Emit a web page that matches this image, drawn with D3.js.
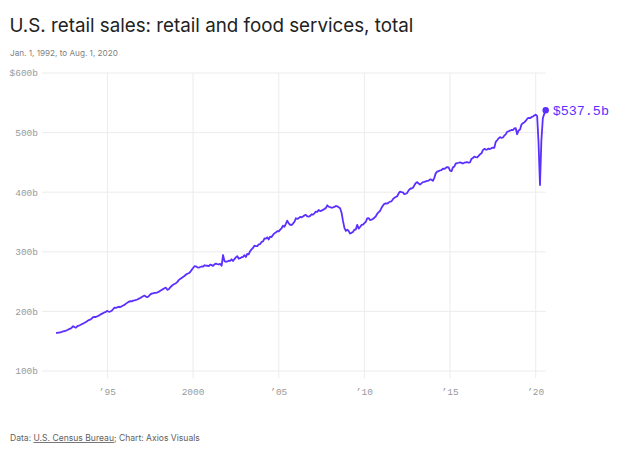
<!DOCTYPE html>
<html>
<head>
<meta charset="utf-8">
<script src="https://cdn.jsdelivr.net/npm/d3@7"></script>
<style>
  html, body { margin: 0; padding: 0; background: #fff; }
  svg { display: block; }
</style>
</head>
<body>
<div id="chart"></div>
<script>
// monthly retail and food services sales, $ billions, Jan 1992 .. Aug 2020
const startYear = 1992
const retailSales = [
  164.1, 164.2, 164.4, 165.0, 165.6, 166.3, 167.0, 167.6, 168.8, 170.2, 171.0, 172.6, // 1992
  175.2, 173.4, 172.6, 175.4, 176.2, 177.2, 178.5, 179.6, 180.9, 182.4, 183.9, 185.4, // 1993
  186.2, 187.9, 190.3, 191.0, 190.6, 191.9, 192.8, 194.6, 195.9, 197.0, 198.5, 199.3, // 1994
  200.9, 199.2, 199.8, 201.0, 203.6, 206.4, 205.9, 206.9, 207.8, 207.3, 208.5, 209.9, // 1995
  210.9, 213.1, 214.4, 216.0, 217.2, 216.8, 218.1, 218.5, 219.2, 220.0, 221.4, 222.6, // 1996
  224.0, 225.5, 226.6, 224.8, 223.8, 225.6, 228.3, 229.8, 230.4, 231.0, 231.2, 231.9, // 1997
  232.8, 234.5, 236.0, 237.4, 238.8, 239.9, 236.2, 237.2, 240.3, 242.6, 244.8, 246.0, // 1998
  247.3, 249.6, 252.4, 254.5, 256.2, 257.8, 259.4, 261.7, 263.2, 264.0, 266.1, 269.5, // 1999
  272.8, 275.8, 275.6, 273.9, 273.3, 274.5, 275.3, 275.2, 277.4, 276.9, 276.6, 276.1, // 2000
  278.5, 277.6, 276.4, 279.0, 280.1, 279.4, 279.0, 279.7, 276.5, 294.6, 284.4, 283.2, // 2001
  283.8, 285.1, 284.9, 287.4, 284.6, 287.8, 290.6, 292.8, 288.4, 289.3, 290.9, 291.2, // 2002
  294.4, 291.3, 296.5, 295.6, 301.0, 304.0, 306.5, 310.2, 309.4, 309.6, 312.4, 313.0, // 2003
  316.6, 317.4, 322.3, 322.0, 324.3, 320.7, 325.4, 324.8, 328.4, 331.1, 332.4, 334.8, // 2004
  334.3, 337.1, 339.4, 343.6, 342.0, 347.0, 352.4, 347.8, 345.4, 345.0, 347.2, 350.3, // 2005
  356.3, 355.2, 356.5, 358.4, 357.8, 359.1, 361.0, 361.8, 359.4, 359.0, 360.2, 363.0, // 2006
  362.4, 364.6, 367.4, 367.0, 370.2, 368.4, 369.1, 370.3, 372.0, 373.2, 378.0, 375.6, // 2007
  374.8, 373.9, 374.5, 375.3, 376.9, 376.4, 374.6, 373.0, 365.5, 351.8, 340.2, 335.0, // 2008
  337.2, 334.8, 330.6, 331.8, 333.4, 337.0, 337.4, 345.3, 338.8, 341.6, 345.0, 345.6, // 2009
  348.2, 350.4, 356.0, 356.6, 353.3, 353.8, 355.0, 357.2, 359.6, 363.8, 366.6, 368.5, // 2010
  373.8, 377.6, 380.4, 381.3, 381.0, 382.5, 384.2, 384.6, 388.3, 390.6, 392.0, 393.2, // 2011
  398.0, 401.0, 400.2, 399.6, 396.8, 397.4, 398.8, 403.0, 405.8, 406.2, 407.4, 411.5, // 2012
  415.4, 416.9, 414.4, 412.8, 414.8, 416.9, 417.5, 418.2, 418.8, 419.4, 421.5, 421.0, // 2013
  419.0, 424.6, 431.6, 434.6, 435.3, 436.5, 436.9, 439.4, 439.0, 440.8, 442.2, 441.5, // 2014
  436.0, 435.2, 441.3, 443.0, 447.8, 448.7, 449.4, 450.2, 449.2, 448.2, 449.5, 450.1, // 2015
  450.6, 449.5, 450.0, 455.8, 457.4, 459.6, 458.8, 458.3, 461.0, 463.6, 465.2, 470.5, // 2016
  472.8, 471.4, 471.6, 473.2, 472.4, 473.8, 474.7, 474.4, 484.5, 487.2, 490.4, 492.5, // 2017
  491.0, 491.8, 494.8, 497.0, 501.3, 502.3, 503.4, 504.4, 504.0, 506.9, 507.3, 497.2, // 2018
  503.4, 505.0, 513.0, 515.8, 517.0, 519.6, 523.0, 524.8, 524.2, 525.9, 527.0, 528.6, // 2019
  530.0, 527.5, 484.0, 412.0, 487.0, 524.0, 531.4, 537.5                                // 2020
]

const yTicks = [100, 200, 300, 400, 500, 600]
const yTickLabels = ['100b', '200b', '300b', '400b', '500b', '$600b']
const xTickYears = [1995, 2000, 2005, 2010, 2015, 2020]
const xTickLabels = ['\u201995', '2000', '\u201905', '\u201910', '\u201915', '\u201920']

const titleText = 'U.S. retail sales: retail and food services, total'
const subtitleText = 'Jan. 1, 1992, to Aug. 1, 2020'
const endLabel = '$537.5b'

const width = 624
const height = 465
const lineColor = '#5b2fff'
const monoFont = '"Liberation Mono", "DejaVu Sans Mono", monospace'
const sansFont = 'Inter, "Noto Sans", sans-serif'

const data = retailSales.map((v, i) => ({
  date: new Date(startYear + Math.floor(i / 12), i % 12, 1),
  value: v
}))
const last = data[data.length - 1]

const svg = d3.select('#chart')
  .append('svg')
  .attr('width', width)
  .attr('height', height)

const x = d3.scaleTime()
  .domain([data[0].date, last.date])
  .range([56, 545.7])

const y = d3.scaleLinear()
  .domain([100, 600])
  .range([371, 73])

// gridlines
svg.append('g')
  .selectAll('line')
  .data(yTicks)
  .join('line')
  .attr('x1', 42)
  .attr('x2', x(last.date))
  .attr('y1', d => y(d))
  .attr('y2', d => y(d))
  .attr('stroke', '#ececec')
  .attr('stroke-width', 1)

svg.append('g')
  .selectAll('line')
  .data(xTickYears)
  .join('line')
  .attr('x1', d => x(new Date(d, 0, 1)))
  .attr('x2', d => x(new Date(d, 0, 1)))
  .attr('y1', y(600))
  .attr('y2', 378)
  .attr('stroke', '#ececec')
  .attr('stroke-width', 1)

// axis labels
svg.append('g')
  .selectAll('text')
  .data(yTicks)
  .join('text')
  .attr('x', 38)
  .attr('y', d => y(d))
  .attr('dy', '0.35em')
  .attr('text-anchor', 'end')
  .style('font-family', monoFont)
  .style('font-size', '9.5px')
  .style('fill', '#9a9a9a')
  .text((d, i) => yTickLabels[i])

svg.append('g')
  .selectAll('text')
  .data(xTickYears)
  .join('text')
  .attr('x', d => x(new Date(d, 0, 1)))
  .attr('y', 394.5)
  .attr('text-anchor', 'middle')
  .style('font-family', monoFont)
  .style('font-size', '9.5px')
  .style('fill', '#9a9a9a')
  .text((d, i) => xTickLabels[i])

// line
const line = d3.line()
  .x(d => x(d.date))
  .y(d => y(d.value))

svg.append('path')
  .datum(data)
  .attr('d', line)
  .attr('fill', 'none')
  .attr('stroke', lineColor)
  .attr('stroke-width', 1.8)
  .attr('stroke-linejoin', 'round')

svg.append('circle')
  .attr('cx', x(last.date))
  .attr('cy', y(last.value))
  .attr('r', 3.2)
  .attr('fill', lineColor)

svg.append('text')
  .attr('x', x(last.date) + 7)
  .attr('y', y(last.value) + 4.8)
  .style('font-family', monoFont)
  .style('font-size', '13.4px')
  .style('fill', lineColor)
  .text(endLabel)

// titles
const fitText = (sel, target) => {
  const w = sel.node().getComputedTextLength()
  const fs = parseFloat(sel.style('font-size'))
  sel.style('font-size', (fs * target / w) + 'px')
}

const title = svg.append('text')
  .attr('x', 9.5)
  .attr('y', 31.5)
  .style('font-family', sansFont)
  .style('font-size', '20px')
  .style('fill', '#222')
  .text(titleText)
fitText(title, 404)

const subtitle = svg.append('text')
  .attr('x', 10)
  .attr('y', 55.5)
  .style('font-family', sansFont)
  .style('font-size', '9.5px')
  .style('fill', '#808080')
  .text(subtitleText)
fitText(subtitle, 108)

const footer = svg.append('text')
  .attr('x', 10)
  .attr('y', 441)
  .style('font-family', sansFont)
  .style('font-size', '9.5px')
  .style('fill', '#606060')
footer.append('tspan').text('Data: ')
footer.append('tspan').style('text-decoration', 'underline').text('U.S. Census Bureau')
footer.append('tspan').text('; Chart: Axios Visuals')
fitText(footer, 190)
</script>
</body>
</html>
